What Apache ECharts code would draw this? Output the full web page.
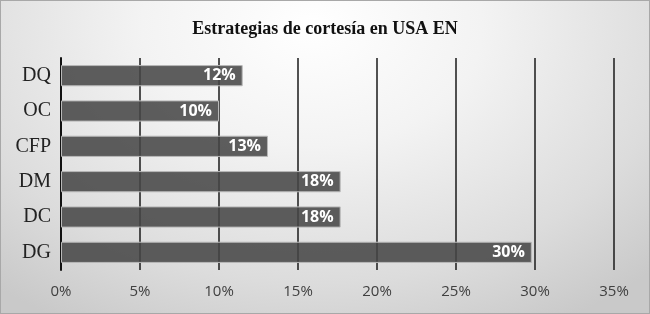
<!DOCTYPE html>
<html>
<head>
<meta charset="utf-8">
<script src="https://cdn.jsdelivr.net/npm/echarts@6/dist/echarts.min.js"></script>
<style>
html,body{margin:0;padding:0;}
#c{width:648px;height:312px;border:1px solid #a8a8a8;
background:radial-gradient(ellipse 75% 110% at 48% 8%, #ffffff 0%, #f3f3f3 35%, #dcdcdc 75%, #c9c9c9 100%);}
</style>
</head>
<body>
<div id="c"></div>
<script>
const categories = ['DQ', 'OC', 'CFP', 'DM', 'DC', 'DG'];
const values = [11.5, 10.0, 13.1, 17.7, 17.7, 29.8];
const tickLabels = ['0%', '5%', '10%', '15%', '20%', '25%', '30%', '35%'];

const chart = echarts.init(document.getElementById('c'), null, {renderer: 'canvas'});
chart.setOption({
  backgroundColor: 'transparent',
  title: {
    text: 'Estrategias de cortesía en USA EN',
    left: 'center', top: 14,
    textStyle: {fontFamily: 'Liberation Serif', fontWeight: 'bold', fontSize: 18, color: '#111'}
  },
  grid: {left: 60, right: 35, top: 57, bottom: 43, containLabel: false},
  xAxis: {
    type: 'value', min: 0, max: 35, interval: 5,
    axisLine: {show: false},
    axisTick: {show: false},
    splitLine: {show: true, lineStyle: {color: '#1a1a1a', width: 1.5}},
    axisLabel: {
      margin: 14,
      fontFamily: 'Open Sans', fontSize: 15, color: '#404040',
      formatter: v => tickLabels[Math.round(v / 5)]
    }
  },
  yAxis: {
    type: 'category', data: categories, inverse: true,
    axisLine: {show: true, lineStyle: {color: '#111', width: 2}},
    axisTick: {show: false},
    axisLabel: {margin: 10, fontFamily: 'Liberation Serif', fontSize: 20, color: '#222'}
  },
  series: [{
    type: 'bar', data: values, barWidth: '60%',
    itemStyle: {color: 'rgba(70,70,70,0.87)', borderColor: '#b8b8b8', borderWidth: 1},
    label: {
      show: true, position: 'insideRight', distance: 7,
      fontFamily: 'Open Sans', fontWeight: 'bold', fontSize: 16, color: '#fff',
      formatter: p => Math.round(p.value) + '%'
    },
    animation: false
  }],
  animation: false
});
</script>
</body>
</html>
